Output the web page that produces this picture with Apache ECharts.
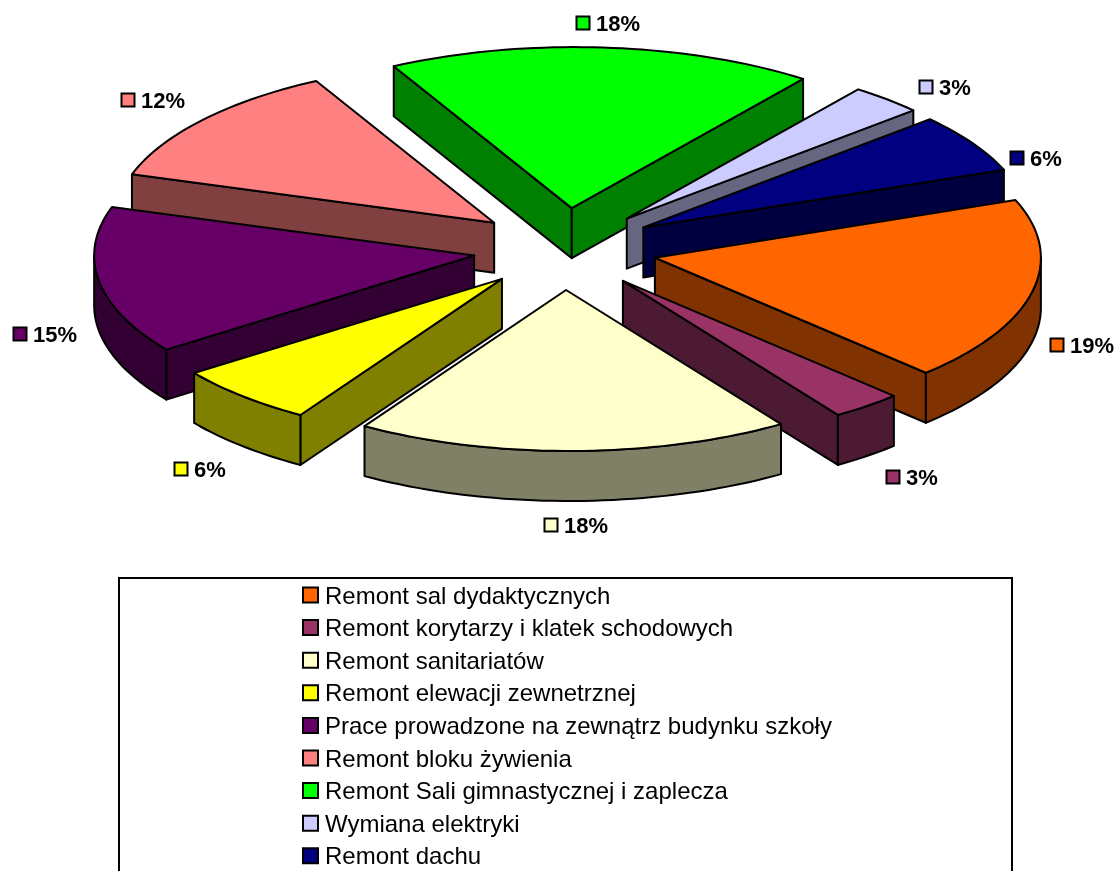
<!DOCTYPE html>
<html><head><meta charset="utf-8">
<style>html,body{margin:0;padding:0;background:#fff;overflow:hidden}#c{width:1116px;height:871px}</style>
<script src="https://cdn.jsdelivr.net/npm/echarts@6/dist/echarts.min.js"></script>
</head><body><div id="c"></div>
<script>
const categories = ['Remont sal dydaktycznych','Remont korytarzy i klatek schodowych','Remont sanitariatów','Remont elewacji zewnetrznej','Prace prowadzone na zewnątrz budynku szkoły','Remont bloku żywienia','Remont Sali gimnastycznej i zaplecza','Wymiana elektryki','Remont dachu'];
const values = [18.5,3.0,18.3,6.1,14.8,12.3,18.0,3.1,5.9];
const topColors = ['#FF6600','#993366','#FFFFCC','#FFFF00','#660066','#FF8080','#00FF00','#CCCCFF','#000080'];
const sideColors = ['#803300','#4D1A33','#808066','#808000','#330033','#804040','#008000','#666680','#000040'];
const labelKeyPos = [[1050,338],[886,470],[544,518],[174,462],[13,327],[121,93],[576,16],[919,80],[1010,151]];

const CX=565, CY=249, RX=383, RY=161, EX=92, EY=41, ARC_DX=3, DEPTH=50, START=-21, LW=2;
const total = values.reduce((a,b)=>a+b,0);
let acc = START;
const spans = values.map(v=>{const a0=acc; acc+=v/total*360; return [a0,acc];});
const rad = d=>d*Math.PI/180;
const mids = spans.map(s=>(s[0]+s[1])/2);
const order = mids.map((m,i)=>[Math.sin(rad(m)),i]).sort((a,b)=>a[0]-b[0]).map(x=>x[1]);

function makeItem(i){
  return function(params, api){
    const val = api.value(0);
    const [a0,a1] = spans[i];
    const m = mids[i];
    const ax = CX+EX*Math.cos(rad(m)), ay = CY+EY*Math.sin(rad(m));
    const pt = (a,dz)=>[ax+ARC_DX+RX*Math.cos(rad(a)), ay+RY*Math.sin(rad(a))+(dz||0)];
    const arc=[]; const n=Math.max(8,Math.ceil((a1-a0)/1.5));
    for(let k=0;k<=n;k++) arc.push(a0+(a1-a0)*k/n);
    const style={fill:sideColors[i],stroke:'#000',lineWidth:LW,lineJoin:'round'};
    const children=[];
    const poly=(points,st)=>children.push({type:'polygon',shape:{points},style:st});
    if(Math.cos(rad(a0))<0) poly([[ax,ay],pt(a0),pt(a0,DEPTH),[ax,ay+DEPTH]],style);
    if(Math.cos(rad(a1))>0) poly([[ax,ay],pt(a1),pt(a1,DEPTH),[ax,ay+DEPTH]],style);
    const front=[];
    for(const a of arc){ if(Math.sin(rad(a))>=0) front.push(a); }
    if(front.length>1 || (Math.sin(rad(a0))<0&&Math.sin(rad(a1))>0)){
      const fa = front.slice();
      if(Math.sin(rad(a0))<0 && Math.cos(rad(a0))>0) fa.unshift(0);
      if(Math.sin(rad(a1))<0 && Math.cos(rad(a1))<0) fa.push(180);
      poly(fa.map(a=>pt(a)).concat(fa.slice().reverse().map(a=>pt(a,DEPTH))),style);
    }
    poly([[ax,ay]].concat(arc.map(a=>pt(a))),{fill:topColors[i],stroke:'#000',lineWidth:LW,lineJoin:'round'});
    const [lx,ly]=labelKeyPos[i];
    children.push({type:'rect',shape:{x:lx+.5,y:ly+.5,width:13,height:13},style:{fill:topColors[i],stroke:'#000',lineWidth:2},z2:50});
    children.push({type:'text',x:lx+20,y:ly+9,style:{text:Math.round(val)+'%',font:'bold 22px "Liberation Sans",Arial,sans-serif',fill:'#000',textAlign:'left',textVerticalAlign:'middle'},z2:50});
    return {type:'group',children};
  };
}

const series = categories.map((name,i)=>({
  type:'custom', name, coordinateSystem:'none',
  z: 2+order.indexOf(i),
  silent:true,
  itemStyle:{color:topColors[i]},
  renderItem: makeItem(i),
  data:[[values[i]]]
}));

const chart = echarts.init(document.getElementById('c'),null,{renderer:'canvas'});
chart.setOption({
  animation:false,
  backgroundColor:'#fff',
  tooltip:{show:false},
  graphic:[{type:'rect',shape:{x:119,y:578,width:893,height:320},style:{fill:'#fff',stroke:'#000',lineWidth:2},z:0}],
  legend:{
    data:categories, orient:'vertical', left:297, top:578, height:400, padding:[3,0,0,5],
    icon:'rect', itemWidth:15, itemHeight:15, itemGap:4.6, selectedMode:false,
    itemStyle:{borderColor:'#000',borderWidth:2},
    formatter:name=>'{a|'+name+'}',
    textStyle:{rich:{a:{fontFamily:'"Liberation Sans",Arial,sans-serif',fontSize:24,color:'#000',lineHeight:24,padding:[4,0,0,2]}}}
  },
  series
});
</script></body></html>
